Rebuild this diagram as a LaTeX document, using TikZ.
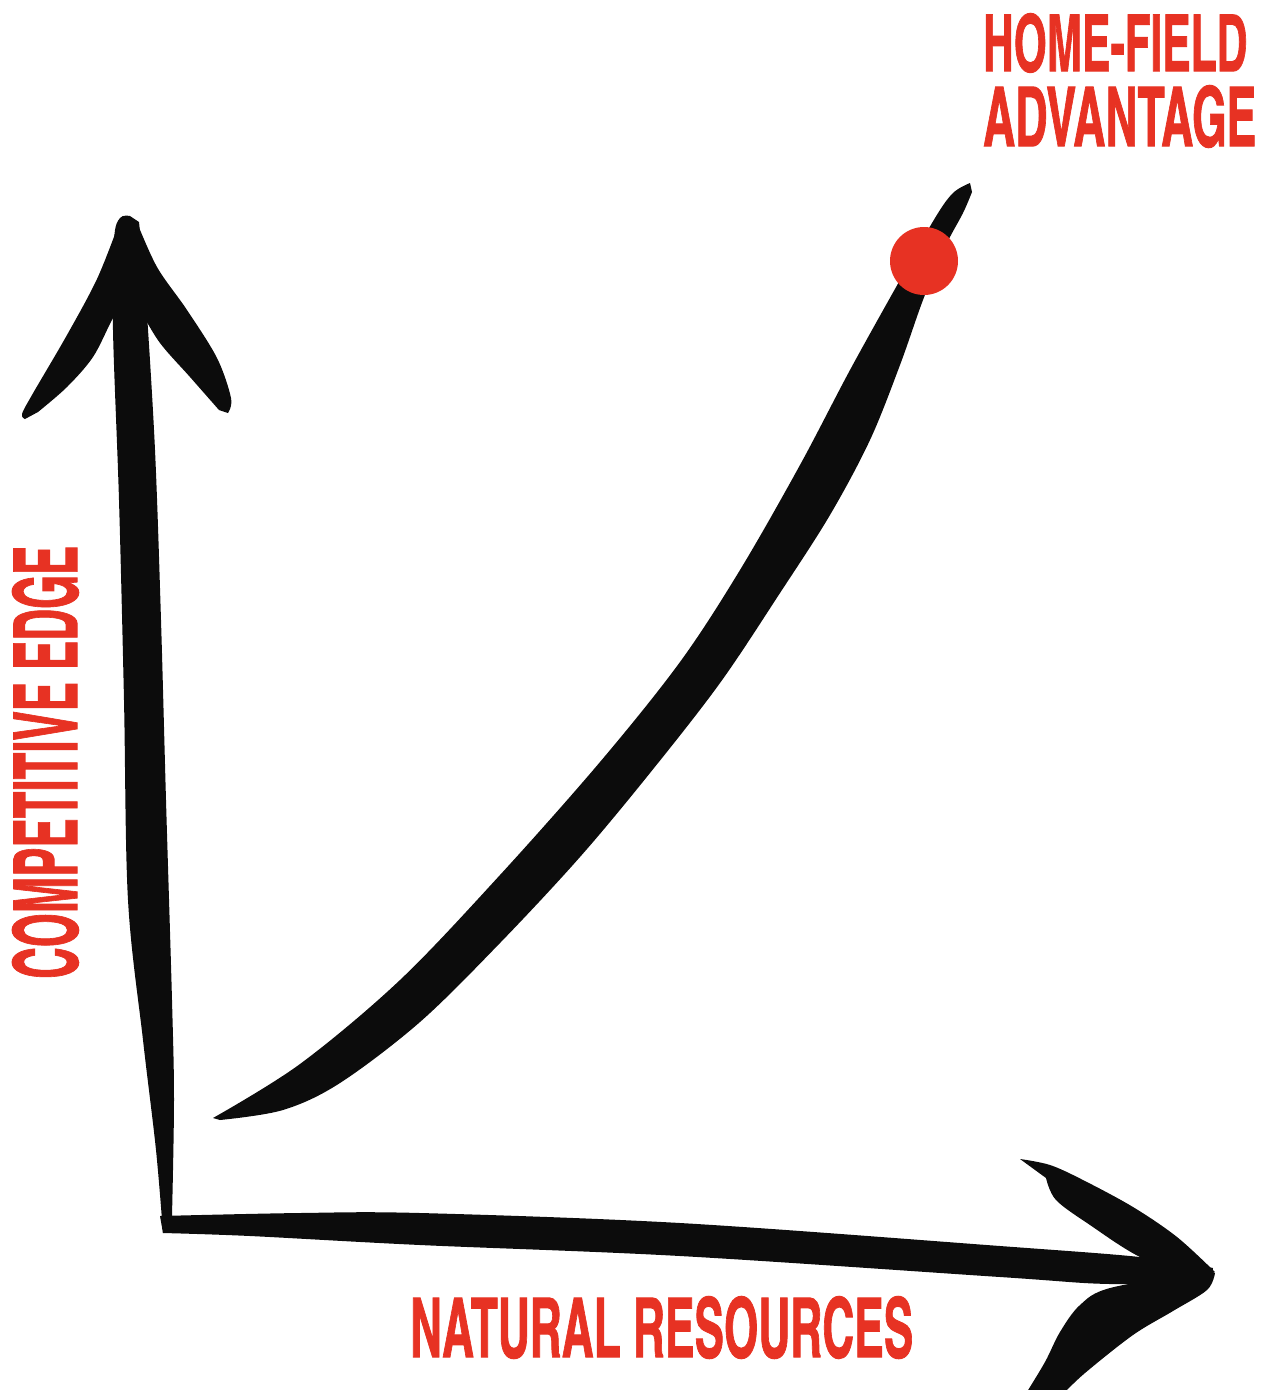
\documentclass[tikz,border=0pt]{standalone}
\usepackage{fontspec}
\usepackage{graphicx}
\newfontfamily\lbl[FakeBold=1.2]{texgyreheroscn-bold.otf}
\definecolor{inkred}{RGB}{231,50,35}
\definecolor{ink}{RGB}{12,12,12}
\tikzset{
  brush/.style={fill=ink, draw=none},
  lab/.style={inner sep=0pt, text=inkred, font=\lbl},
  smoothplot/.style={smooth, tension=0.55}
}
\begin{document}
\begin{tikzpicture}[x=1pt,y=-1pt]
\useasboundingbox (0,0) rectangle (1271,1390);
\clip (0,0) rectangle (1271,1390);
% vertical axis shaft
\fill[brush] plot[smoothplot] coordinates {(163,1233) (156,1150) (143,1040) (128,900) (124,700) (119,500) (113,330) (114,240) (120,218) (130,216)}
  -- plot[smoothplot] coordinates {(139,222) (146,300) (155,450) (161,620) (166,800) (172,1000) (174,1100) (172,1216)} -- cycle;
% vertical arrow barbs
\fill[brush] plot[smoothplot] coordinates {(118,226) (97,279) (67,335) (32,395) (22,414) (25,419)}
  -- plot[smoothplot] coordinates {(38,412) (67,387) (93,357) (112,320) (125,300)} -- cycle;
\fill[brush] plot[smoothplot] coordinates {(136,220) (157,267) (187,310) (217,358) (231,398) (228,413)}
  -- plot[smoothplot] coordinates {(219,410) (190,377) (160,343) (140,310) (133,300)} -- cycle;
% horizontal axis shaft
\fill[brush] plot[smoothplot] coordinates {(160,1216) (300,1213) (420,1213) (680,1223) (1000,1246) (1140,1257) (1213,1268)}
  -- plot[smoothplot] coordinates {(1212,1281) (1110,1284) (1000,1277) (680,1256) (420,1245) (250,1236) (163,1233)} -- cycle;
% horizontal arrow barbs
\fill[brush] plot[smoothplot] coordinates {(1215,1272) (1177,1237) (1133,1207) (1083,1180) (1050,1165) (1020,1159)}
  -- plot[smoothplot] coordinates {(1046,1178) (1056,1200) (1090,1225) (1140,1257) (1200,1280)} -- cycle;
\fill[brush] plot[smoothplot] coordinates {(1215,1273) (1207,1290) (1173,1311) (1133,1335) (1085,1373) (1062,1395)}
  -- plot[smoothplot] coordinates {(1025,1395) (1045,1362) (1060,1332) (1080,1305) (1110,1288) (1200,1272)} -- cycle;
% curve
\fill[brush] plot[smoothplot] coordinates {(213,1118) (300,1064) (400,980) (500,875) (600,762) (680,662) (740,570) (800,465) (850,370) (900,280) (935,218) (953,193) (970,183)}
  -- plot[smoothplot] coordinates {(972,192) (963,213) (945,247) (923,300) (900,365) (870,440) (830,515) (780,593) (720,683) (650,773) (580,857) (500,943) (420,1022) (340,1083) (283,1110) (220,1120)} -- cycle;
% red dot
\node[circle, fill=inkred, minimum size=68pt, inner sep=0pt] (dot) at (924,261) {};
% labels
\node[lab, anchor=north west] (hf) at (983,13) {\resizebox{264pt}{58pt}{HOME-FIELD}};
\node[lab, anchor=north west] (adv) at (983,85) {\resizebox{273pt}{61pt}{ADVANTAGE}};
\node[lab, anchor=north west] (nat) at (410,1296) {\resizebox{503pt}{61pt}{NATURAL RESOURCES}};
\node[lab, anchor=south west, rotate=90] (comp) at (79,979) {\resizebox{433pt}{65pt}{COMPETITIVE EDGE}};
\end{tikzpicture}
\end{document}
